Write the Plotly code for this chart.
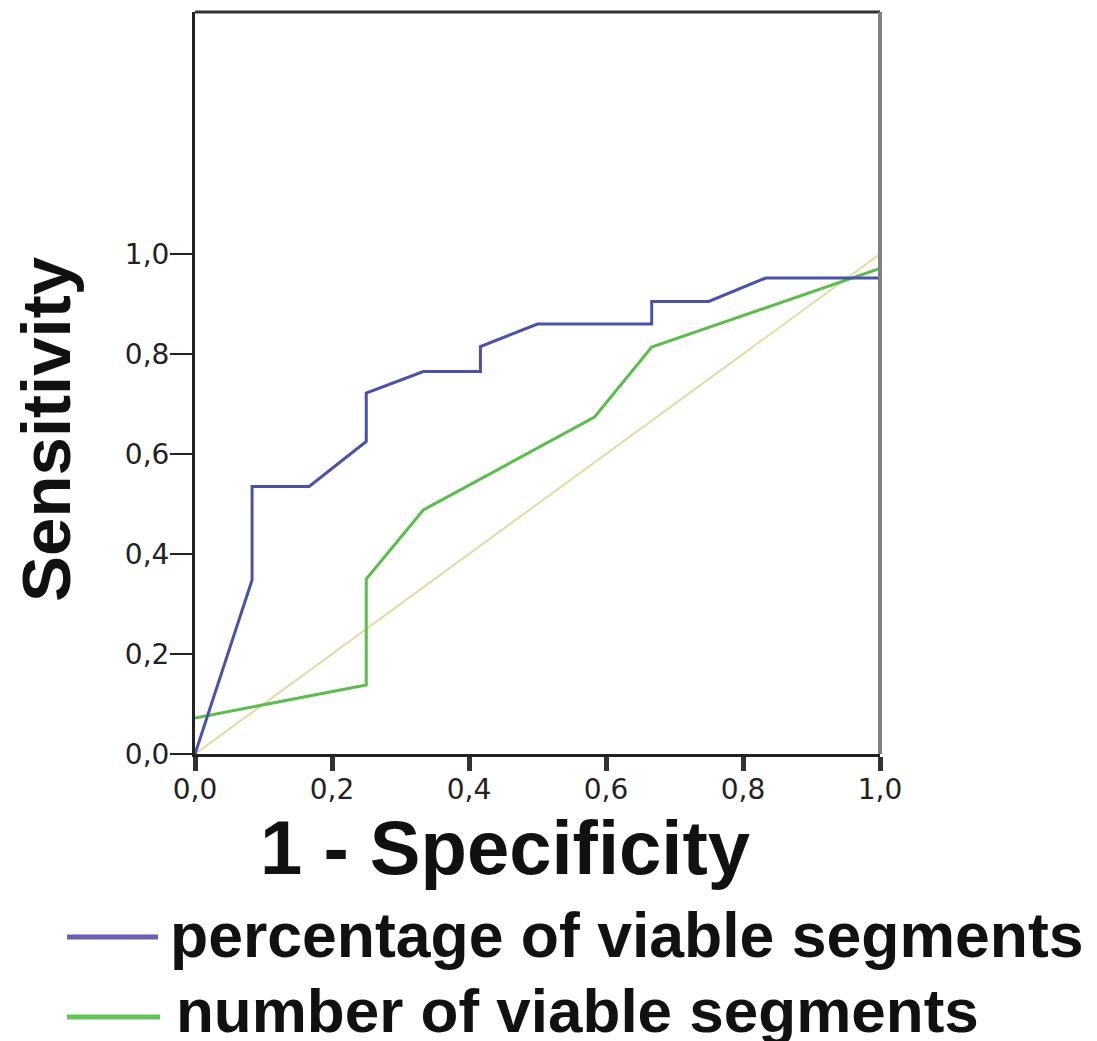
import plotly.graph_objects as go

# ROC data (1 - specificity, sensitivity)
pct_x = [0.0, 0.0833, 0.0833, 0.1667, 0.25, 0.25, 0.3333, 0.4167, 0.4167, 0.5, 0.6667, 0.6667, 0.75, 0.8333, 1.0, 1.0]
pct_y = [0.0, 0.348, 0.535, 0.535, 0.625, 0.722, 0.765, 0.765, 0.815, 0.860, 0.860, 0.905, 0.905, 0.952, 0.952, 1.0]

num_x = [0.0, 0.25, 0.25, 0.3333, 0.5833, 0.6667, 1.0, 1.0]
num_y = [0.072, 0.138, 0.350, 0.488, 0.674, 0.814, 0.971, 1.0]

ref_x = [0.0, 1.0]
ref_y = [0.0, 1.0]

tick_vals = [0.0, 0.2, 0.4, 0.6, 0.8, 1.0]
tick_text = ["0,0", "0,2", "0,4", "0,6", "0,8", "1,0"]

series_names = ["percentage of viable segments", "number of viable segments"]
BLUE = "#4a52a8"
GREEN = "#5cbd4e"
TAN = "#e6d9a2"

# page is 1097x1041; browser body has an 8px margin
OFF = 8
W, H = 1097 - OFF, 1041 - OFF
L, R, T, B = 195, 880, 12, 754   # plot-area edges in page pixels


def px(X):
    return (X - L) / (R - L)


def py(Y):
    return (B - Y) / (B - T)


fig = go.Figure()
fig.add_trace(go.Scatter(x=ref_x, y=ref_y, mode="lines", line=dict(color=TAN, width=2), showlegend=False, hoverinfo="skip"))
fig.add_trace(go.Scatter(x=num_x, y=num_y, mode="lines", line=dict(color=GREEN, width=3), name=series_names[1], showlegend=False))
fig.add_trace(go.Scatter(x=pct_x, y=pct_y, mode="lines", line=dict(color=BLUE, width=3), name=series_names[0], showlegend=False))

tickfont = dict(family="DejaVu Sans", size=28, color="#222222")
fig.update_xaxes(range=[0, 1], tickvals=tick_vals, ticktext=tick_text, ticks="outside", ticklen=14, tickwidth=5,
                 tickcolor="#333333", showline=True, linecolor="#222222", linewidth=3, showgrid=False,
                 zeroline=False, tickfont=tickfont, ticklabelstandoff=-6)
fig.update_yaxes(range=[0, (B - T) / 500.0], tickvals=tick_vals, ticktext=tick_text, ticks="outside", ticklen=22,
                 tickwidth=2, tickcolor="#222222", showline=True, linecolor="#222222", linewidth=3, showgrid=False,
                 zeroline=False, tickfont=tickfont, ticklabelstandoff=-5)

shapes = [
    dict(type="line", xref="paper", yref="paper", x0=0, x1=1, y0=1, y1=1, line=dict(color="#333333", width=3)),
    dict(type="line", xref="paper", yref="paper", x0=1, x1=1, y0=0, y1=1, line=dict(color="#808080", width=4)),
    dict(type="line", xref="paper", yref="paper", x0=px(67), x1=px(158), y0=py(937), y1=py(937), line=dict(color="#6a5fb0", width=5)),
    dict(type="line", xref="paper", yref="paper", x0=px(67), x1=px(160), y0=py(1017), y1=py(1017), line=dict(color="#66c35a", width=5)),
]

bold = "Liberation Sans"
annotations = [
    dict(text="<b>Sensitivity</b>", xref="paper", yref="paper", x=px(47), y=py(430), showarrow=False,
         textangle=-90, font=dict(family=bold, size=69, color="#111111"), xanchor="center", yanchor="middle"),
    dict(text="<b>1 - Specificity</b>", xref="paper", yref="paper", x=px(505), y=py(848), showarrow=False,
         font=dict(family=bold, size=76, color="#111111"), xanchor="center", yanchor="middle"),
    dict(text="<b>" + series_names[0] + "</b>", xref="paper", yref="paper", x=px(168), y=py(935), showarrow=False,
         font=dict(family=bold, size=62.5, color="#111111"), xanchor="left", yanchor="middle"),
    dict(text="<b>" + series_names[1] + "</b>", xref="paper", yref="paper", x=px(174), y=py(1010), showarrow=False,
         font=dict(family=bold, size=62, color="#111111"), xanchor="left", yanchor="middle"),
]

fig.update_layout(width=W, height=H, margin=dict(l=L - OFF, r=1097 - R, t=T - OFF, b=1041 - B, pad=0),
                  paper_bgcolor="white", plot_bgcolor="white", shapes=shapes, annotations=annotations,
                  showlegend=False)

fig.write_html("out.html")
